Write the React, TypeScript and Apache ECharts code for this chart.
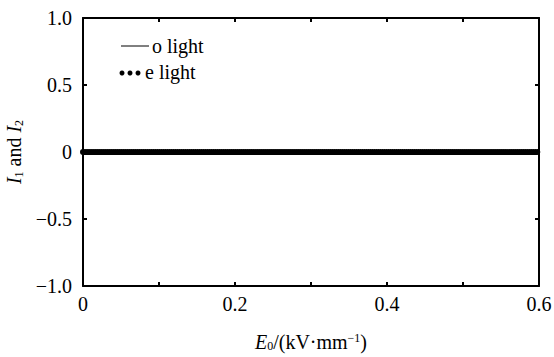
import React, { useEffect, useRef } from "react";
import * as echarts from "echarts";

const xLabelsShown = [0, 0.2, 0.4, 0.6];
const yTickLabels: Record<string, string> = { "1": "1.0", "0.5": "0.5", "0": "0", "-0.5": "−0.5", "-1": "−1.0" };
const oLight: [number, number][] = [[0, 0], [0.6, 0]];
const eLight: [number, number][] = [[0, 0], [0.6, 0]];
const seriesNames = ["o light", "e light"];

const FONT = "Liberation Serif";
const FS = 20;

export default function App() {
  const ref = useRef<HTMLDivElement>(null);
  useEffect(() => {
    if (!ref.current) return;
    const chart = echarts.init(ref.current, undefined, { renderer: "svg" });
    const axisCommon = {
      axisLine: { show: true, onZero: false, lineStyle: { color: "#000", width: 2 } },
      axisTick: { show: true, inside: true, length: 4, lineStyle: { color: "#000", width: 2 } },
      splitLine: { show: false },
    };
    const nameRich = {
      n: { fontFamily: FONT, fontSize: FS, color: "#000" },
      i: { fontFamily: FONT, fontSize: FS, fontStyle: "italic", color: "#000" },
      sub: { fontFamily: FONT, fontSize: 12, color: "#000", padding: [9, 0, 0, 0] },
      sup: { fontFamily: FONT, fontSize: 12, color: "#000", padding: [0, 0, 8, 0] },
    };
    chart.setOption({
      animation: false,
      textStyle: { fontFamily: FONT },
      grid: { left: 83, right: 15, top: 18, bottom: 71, containLabel: false, outerBoundsMode: "none" },
      xAxis: [
        {
          type: "value",
          min: 0,
          max: 0.6,
          interval: 0.1,
          ...axisCommon,
          axisLabel: {
            fontFamily: FONT,
            fontSize: FS,
            color: "#000",
            margin: 8,
            formatter: (v: number) => {
              const r = Math.round(v * 10) / 10;
              return xLabelsShown.some((t) => Math.abs(t - r) < 1e-9) ? (r === 0 ? "0" : r.toFixed(1)) : "";
            },
          },
          name: "{i|E}{sub|0}{n|/(kV·mm}{sup|−1}{n|)}",
          nameLocation: "middle",
          nameGap: 45,
          nameTextStyle: { rich: nameRich },
        },
        {
          type: "value",
          position: "top",
          min: 0,
          max: 0.6,
          interval: 0.1,
          ...axisCommon,
          axisLabel: { show: false },
        },
      ],
      yAxis: [
        {
          type: "value",
          min: -1,
          max: 1,
          interval: 0.5,
          ...axisCommon,
          axisLabel: {
            fontFamily: FONT,
            fontSize: FS,
            color: "#000",
            margin: 11,
            formatter: (v: number) => yTickLabels[String(v)] ?? String(v),
          },
          name: "{i|I}{sub|1}{n| and }{i|I}{sub|2}",
          nameLocation: "middle",
          nameGap: 57,
          nameTextStyle: { rich: nameRich },
        },
        {
          type: "value",
          position: "right",
          min: -1,
          max: 1,
          interval: 0.5,
          ...axisCommon,
          axisLabel: { show: false },
        },
      ],
      series: [
        {
          name: seriesNames[0],
          type: "line",
          data: oLight,
          symbol: "none",
          lineStyle: { color: "#000", width: 1 },
        },
        {
          name: seriesNames[1],
          type: "line",
          data: eLight,
          symbol: "none",
          lineStyle: { color: "#000", width: 6, type: [0.01, 2], cap: "round" },
        },
      ],
      graphic: [
        { type: "line", shape: { x1: 121, y1: 46, x2: 149, y2: 46 }, style: { stroke: "#000", lineWidth: 1 } },
        { type: "text", x: 152, y: 46, style: { text: seriesNames[0], fontFamily: FONT, fontSize: FS, fill: "#000", verticalAlign: "middle" } },
        { type: "circle", shape: { cx: 122, cy: 73, r: 2.5 }, style: { fill: "#000" } },
        { type: "circle", shape: { cx: 130, cy: 73, r: 2.5 }, style: { fill: "#000" } },
        { type: "circle", shape: { cx: 138, cy: 73, r: 2.5 }, style: { fill: "#000" } },
        { type: "text", x: 145, y: 72, style: { text: seriesNames[1], fontFamily: FONT, fontSize: FS, fill: "#000", verticalAlign: "middle" } },
      ],
    });
    return () => chart.dispose();
  }, []);
  return <div ref={ref} style={{ width: 554, height: 357, position: "absolute", left: 0, top: 0, background: "#fff" }} />;
}
